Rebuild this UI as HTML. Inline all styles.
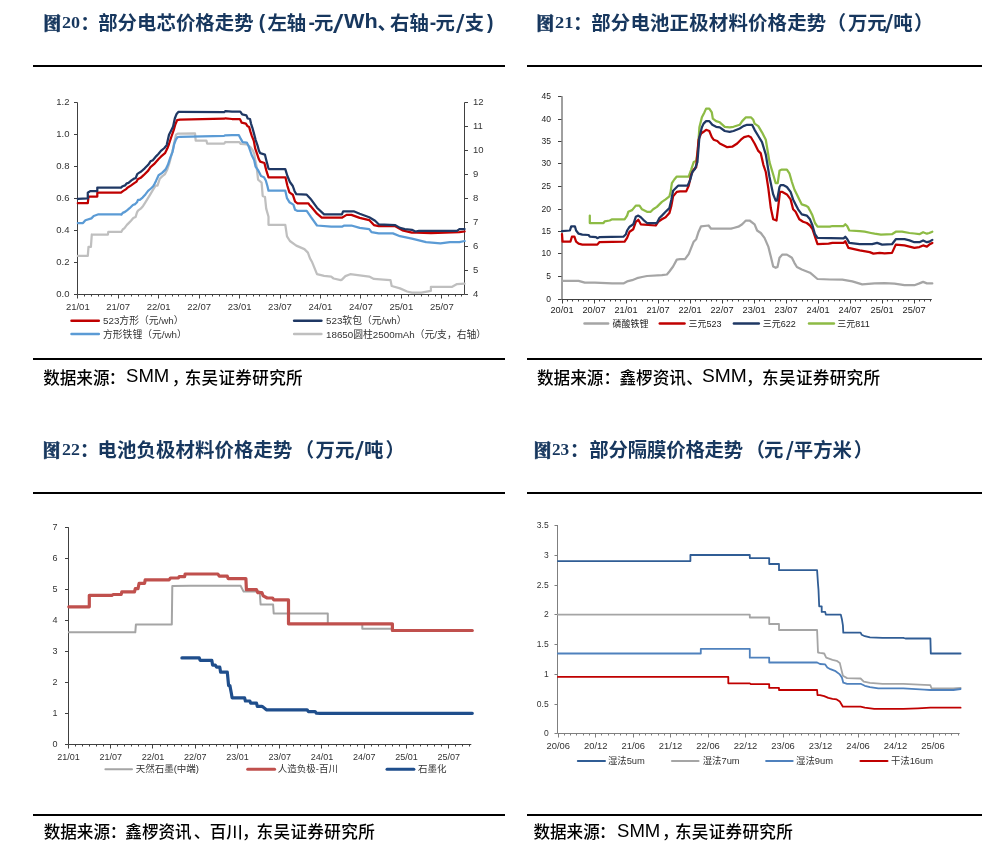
<!DOCTYPE html>
<html><head><meta charset="utf-8"><title>电池材料价格走势</title>
<style>
html,body{margin:0;padding:0;background:#fff;}
body{width:1005px;height:864px;position:relative;overflow:hidden;}
.c{position:absolute;white-space:nowrap;margin:0;padding:0;}
.rule{position:absolute;height:2px;background:#000;}
svg{position:absolute;left:0;top:0;}
svg text{font-family:'Liberation Sans','Noto Sans CJK SC',sans-serif;}
</style></head><body>
<div class="c" style="left:43.2px;top:9.1px;font-family:'Liberation Serif','Noto Serif CJK SC',serif;font-weight:900;font-size:18px;-webkit-text-stroke:0.45px #17375E;color:#17375E">图</div>
<div class="c" style="left:62.1px;top:12.1px;font-family:'Liberation Serif',serif;font-weight:bold;font-size:17.5px;color:#17375E;transform:scaleX(1.035);transform-origin:0 0">20</div>
<div class="c" style="left:80.2px;top:6.9px;font-family:'Liberation Sans','Noto Sans CJK SC',sans-serif;font-weight:bold;font-size:19.4px;color:#17375E">：</div>
<div class="c" style="left:98.2px;top:6.9px;font-family:'Liberation Sans','Noto Sans CJK SC',sans-serif;font-weight:bold;font-size:19.4px;color:#17375E;letter-spacing:0.04px">部分电芯价格走势</div>
<div class="c" style="left:258.7px;top:11.1px;font-family:'Liberation Sans','Noto Sans CJK SC',sans-serif;font-weight:bold;font-size:19.4px;color:#17375E">(</div>
<div class="c" style="left:267.4px;top:6.9px;font-family:'Liberation Sans','Noto Sans CJK SC',sans-serif;font-weight:bold;font-size:19.4px;color:#17375E">左轴</div>
<div class="c" style="left:308.5px;top:11.3px;font-family:'Liberation Sans','Noto Sans CJK SC',sans-serif;font-weight:bold;font-size:19.4px;color:#17375E">-</div>
<div class="c" style="left:313.9px;top:6.9px;font-family:'Liberation Sans','Noto Sans CJK SC',sans-serif;font-weight:bold;font-size:19.4px;color:#17375E">元</div>
<div class="c" style="left:333.3px;top:10.0px;font-family:'Liberation Sans',sans-serif;font-weight:normal;font-size:25px;color:#17375E;transform:scaleX(1.500);transform-origin:0 0">/</div>
<div class="c" style="left:343.8px;top:9.3px;font-family:'Liberation Sans','Noto Sans CJK SC',sans-serif;font-weight:bold;font-size:20.5px;color:#17375E;transform:scaleX(1.058);transform-origin:0 0">Wh</div>
<div class="c" style="left:377.6px;top:6.9px;font-family:'Liberation Sans','Noto Sans CJK SC',sans-serif;font-weight:bold;font-size:19.4px;color:#17375E">、</div>
<div class="c" style="left:390.0px;top:6.9px;font-family:'Liberation Sans','Noto Sans CJK SC',sans-serif;font-weight:bold;font-size:19.4px;color:#17375E">右轴</div>
<div class="c" style="left:429.7px;top:11.3px;font-family:'Liberation Sans','Noto Sans CJK SC',sans-serif;font-weight:bold;font-size:19.4px;color:#17375E">-</div>
<div class="c" style="left:435.6px;top:6.9px;font-family:'Liberation Sans','Noto Sans CJK SC',sans-serif;font-weight:bold;font-size:19.4px;color:#17375E">元</div>
<div class="c" style="left:456.0px;top:10.0px;font-family:'Liberation Sans',sans-serif;font-weight:normal;font-size:25px;color:#17375E;transform:scaleX(1.229);transform-origin:0 0">/</div>
<div class="c" style="left:464.8px;top:6.9px;font-family:'Liberation Sans','Noto Sans CJK SC',sans-serif;font-weight:bold;font-size:19.4px;color:#17375E">支</div>
<div class="c" style="left:487.0px;top:11.2px;font-family:'Liberation Sans','Noto Sans CJK SC',sans-serif;font-weight:bold;font-size:19.4px;color:#17375E">)</div>
<div class="c" style="left:536.3px;top:9.1px;font-family:'Liberation Serif','Noto Serif CJK SC',serif;font-weight:900;font-size:18px;-webkit-text-stroke:0.45px #17375E;color:#17375E">图</div>
<div class="c" style="left:554.6px;top:12.1px;font-family:'Liberation Serif',serif;font-weight:bold;font-size:17.5px;color:#17375E;transform:scaleX(1.053);transform-origin:0 0">21</div>
<div class="c" style="left:573.1px;top:6.9px;font-family:'Liberation Sans','Noto Sans CJK SC',sans-serif;font-weight:bold;font-size:19.4px;color:#17375E">：</div>
<div class="c" style="left:591.2px;top:6.9px;font-family:'Liberation Sans','Noto Sans CJK SC',sans-serif;font-weight:bold;font-size:19.4px;color:#17375E;letter-spacing:0.21px">部分电池正极材料价格走势</div>
<div class="c" style="left:826.7px;top:6.9px;font-family:'Liberation Sans','Noto Sans CJK SC',sans-serif;font-weight:bold;font-size:19.4px;color:#17375E">（</div>
<div class="c" style="left:847.9px;top:6.9px;font-family:'Liberation Sans','Noto Sans CJK SC',sans-serif;font-weight:bold;font-size:19.4px;color:#17375E">万元</div>
<div class="c" style="left:885.2px;top:10.0px;font-family:'Liberation Sans',sans-serif;font-weight:normal;font-size:25px;color:#17375E;transform:scaleX(1.171);transform-origin:0 0">/</div>
<div class="c" style="left:893.2px;top:6.9px;font-family:'Liberation Sans','Noto Sans CJK SC',sans-serif;font-weight:bold;font-size:19.4px;color:#17375E">吨</div>
<div class="c" style="left:914.1px;top:6.9px;font-family:'Liberation Sans','Noto Sans CJK SC',sans-serif;font-weight:bold;font-size:19.4px;color:#17375E">）</div>
<div class="c" style="left:42.4px;top:436.1px;font-family:'Liberation Serif','Noto Serif CJK SC',serif;font-weight:900;font-size:18px;-webkit-text-stroke:0.45px #17375E;color:#17375E">图</div>
<div class="c" style="left:61.8px;top:439.1px;font-family:'Liberation Serif',serif;font-weight:bold;font-size:17.5px;color:#17375E;transform:scaleX(1.024);transform-origin:0 0">22</div>
<div class="c" style="left:79.7px;top:433.9px;font-family:'Liberation Sans','Noto Sans CJK SC',sans-serif;font-weight:bold;font-size:19.4px;color:#17375E">：</div>
<div class="c" style="left:97.6px;top:433.9px;font-family:'Liberation Sans','Noto Sans CJK SC',sans-serif;font-weight:bold;font-size:19.4px;color:#17375E;letter-spacing:0.10px">电池负极材料价格走势</div>
<div class="c" style="left:294.7px;top:433.9px;font-family:'Liberation Sans','Noto Sans CJK SC',sans-serif;font-weight:bold;font-size:19.4px;color:#17375E">（</div>
<div class="c" style="left:315.6px;top:433.9px;font-family:'Liberation Sans','Noto Sans CJK SC',sans-serif;font-weight:bold;font-size:19.4px;color:#17375E">万元</div>
<div class="c" style="left:355.4px;top:437.0px;font-family:'Liberation Sans',sans-serif;font-weight:normal;font-size:25px;color:#17375E;transform:scaleX(1.257);transform-origin:0 0">/</div>
<div class="c" style="left:364.0px;top:433.9px;font-family:'Liberation Sans','Noto Sans CJK SC',sans-serif;font-weight:bold;font-size:19.4px;color:#17375E">吨</div>
<div class="c" style="left:385.5px;top:433.9px;font-family:'Liberation Sans','Noto Sans CJK SC',sans-serif;font-weight:bold;font-size:19.4px;color:#17375E">）</div>
<div class="c" style="left:533.6px;top:436.1px;font-family:'Liberation Serif','Noto Serif CJK SC',serif;font-weight:900;font-size:18px;-webkit-text-stroke:0.45px #17375E;color:#17375E">图</div>
<div class="c" style="left:552.1px;top:439.1px;font-family:'Liberation Serif',serif;font-weight:bold;font-size:17.5px;color:#17375E;transform:scaleX(0.982);transform-origin:0 0">23</div>
<div class="c" style="left:569.8px;top:433.9px;font-family:'Liberation Sans','Noto Sans CJK SC',sans-serif;font-weight:bold;font-size:19.4px;color:#17375E">：</div>
<div class="c" style="left:589.3px;top:433.9px;font-family:'Liberation Sans','Noto Sans CJK SC',sans-serif;font-weight:bold;font-size:19.4px;color:#17375E;letter-spacing:-0.17px">部分隔膜价格走势</div>
<div class="c" style="left:745.4px;top:433.9px;font-family:'Liberation Sans','Noto Sans CJK SC',sans-serif;font-weight:bold;font-size:19.4px;color:#17375E">（</div>
<div class="c" style="left:764.1px;top:433.9px;font-family:'Liberation Sans','Noto Sans CJK SC',sans-serif;font-weight:bold;font-size:19.4px;color:#17375E">元</div>
<div class="c" style="left:786.3px;top:437.0px;font-family:'Liberation Sans',sans-serif;font-weight:normal;font-size:25px;color:#17375E;transform:scaleX(1.086);transform-origin:0 0">/</div>
<div class="c" style="left:793.8px;top:433.9px;font-family:'Liberation Sans','Noto Sans CJK SC',sans-serif;font-weight:bold;font-size:19.4px;color:#17375E">平方米</div>
<div class="c" style="left:853.8px;top:433.9px;font-family:'Liberation Sans','Noto Sans CJK SC',sans-serif;font-weight:bold;font-size:19.4px;color:#17375E">）</div>
<div class="c" style="left:43.2px;top:364.5px;font-family:'Liberation Sans','Noto Sans CJK SC',sans-serif;font-weight:500;font-size:16.6px;color:#000">数据来源</div>
<div class="c" style="left:108.7px;top:364.5px;font-family:'Liberation Sans','Noto Sans CJK SC',sans-serif;font-weight:500;font-size:16.6px;color:#000">：</div>
<div class="c" style="left:126.3px;top:365.9px;font-family:'Liberation Sans',sans-serif;font-size:17.7px;color:#000;transform:scaleX(1.049);transform-origin:0 0">SMM</div>
<div class="c" style="left:171.8px;top:364.5px;font-family:'Liberation Sans','Noto Sans CJK SC',sans-serif;font-weight:500;font-size:16.6px;color:#000">，</div>
<div class="c" style="left:184.7px;top:364.5px;font-family:'Liberation Sans','Noto Sans CJK SC',sans-serif;font-weight:500;font-size:16.6px;color:#000;letter-spacing:0.30px">东吴证券研究所</div>
<div class="c" style="left:537.0px;top:364.5px;font-family:'Liberation Sans','Noto Sans CJK SC',sans-serif;font-weight:500;font-size:16.6px;color:#000">数据来源</div>
<div class="c" style="left:603.6px;top:364.5px;font-family:'Liberation Sans','Noto Sans CJK SC',sans-serif;font-weight:500;font-size:16.6px;color:#000">：</div>
<div class="c" style="left:619.5px;top:364.5px;font-family:'Liberation Sans','Noto Sans CJK SC',sans-serif;font-weight:500;font-size:16.6px;color:#000">鑫椤资讯</div>
<div class="c" style="left:686.2px;top:364.5px;font-family:'Liberation Sans','Noto Sans CJK SC',sans-serif;font-weight:500;font-size:16.6px;color:#000">、</div>
<div class="c" style="left:702.0px;top:365.9px;font-family:'Liberation Sans',sans-serif;font-size:17.7px;color:#000;transform:scaleX(1.085);transform-origin:0 0">SMM</div>
<div class="c" style="left:745.9px;top:364.5px;font-family:'Liberation Sans','Noto Sans CJK SC',sans-serif;font-weight:500;font-size:16.6px;color:#000">，</div>
<div class="c" style="left:762.1px;top:364.5px;font-family:'Liberation Sans','Noto Sans CJK SC',sans-serif;font-weight:500;font-size:16.6px;color:#000;letter-spacing:0.30px">东吴证券研究所</div>
<div class="c" style="left:43.7px;top:819.3px;font-family:'Liberation Sans','Noto Sans CJK SC',sans-serif;font-weight:500;font-size:16.6px;color:#000">数据来源</div>
<div class="c" style="left:109.7px;top:819.3px;font-family:'Liberation Sans','Noto Sans CJK SC',sans-serif;font-weight:500;font-size:16.6px;color:#000">：</div>
<div class="c" style="left:125.3px;top:819.3px;font-family:'Liberation Sans','Noto Sans CJK SC',sans-serif;font-weight:500;font-size:16.6px;color:#000">鑫椤资讯</div>
<div class="c" style="left:193.7px;top:819.3px;font-family:'Liberation Sans','Noto Sans CJK SC',sans-serif;font-weight:500;font-size:16.6px;color:#000">、</div>
<div class="c" style="left:209.7px;top:819.3px;font-family:'Liberation Sans','Noto Sans CJK SC',sans-serif;font-weight:500;font-size:16.6px;color:#000">百川</div>
<div class="c" style="left:242.1px;top:819.3px;font-family:'Liberation Sans','Noto Sans CJK SC',sans-serif;font-weight:500;font-size:16.6px;color:#000">，</div>
<div class="c" style="left:256.6px;top:819.3px;font-family:'Liberation Sans','Noto Sans CJK SC',sans-serif;font-weight:500;font-size:16.6px;color:#000;letter-spacing:0.33px">东吴证券研究所</div>
<div class="c" style="left:533.4px;top:819.3px;font-family:'Liberation Sans','Noto Sans CJK SC',sans-serif;font-weight:500;font-size:16.6px;color:#000">数据来源</div>
<div class="c" style="left:598.9px;top:819.3px;font-family:'Liberation Sans','Noto Sans CJK SC',sans-serif;font-weight:500;font-size:16.6px;color:#000">：</div>
<div class="c" style="left:616.5px;top:820.7px;font-family:'Liberation Sans',sans-serif;font-size:17.7px;color:#000;transform:scaleX(1.049);transform-origin:0 0">SMM</div>
<div class="c" style="left:662.0px;top:819.3px;font-family:'Liberation Sans','Noto Sans CJK SC',sans-serif;font-weight:500;font-size:16.6px;color:#000">，</div>
<div class="c" style="left:674.9px;top:819.3px;font-family:'Liberation Sans','Noto Sans CJK SC',sans-serif;font-weight:500;font-size:16.6px;color:#000;letter-spacing:0.30px">东吴证券研究所</div>
<div class="rule" style="left:33px;top:65px;width:472px;"></div>
<div class="rule" style="left:527px;top:65px;width:455px;"></div>
<div class="rule" style="left:33px;top:358px;width:472px;"></div>
<div class="rule" style="left:527px;top:358px;width:455px;"></div>
<div class="rule" style="left:33px;top:492px;width:472px;"></div>
<div class="rule" style="left:527px;top:492px;width:455px;"></div>
<div class="rule" style="left:33px;top:814px;width:472px;"></div>
<div class="rule" style="left:527px;top:814px;width:455px;"></div>
<svg width="1005" height="864" viewBox="0 0 1005 864">
<line x1="77.5" y1="102.5" x2="77.5" y2="294.5" stroke="#404040" stroke-width="1"/>
<line x1="77.5" y1="294.5" x2="464.5" y2="294.5" stroke="#404040" stroke-width="1"/>
<line x1="74.0" y1="294.5" x2="77.5" y2="294.5" stroke="#404040" stroke-width="1"/>
<text x="69.5" y="296.9" font-size="9.5" text-anchor="end" fill="#333333" >0.0</text>
<line x1="74.0" y1="262.5" x2="77.5" y2="262.5" stroke="#404040" stroke-width="1"/>
<text x="69.5" y="264.9" font-size="9.5" text-anchor="end" fill="#333333" >0.2</text>
<line x1="74.0" y1="230.5" x2="77.5" y2="230.5" stroke="#404040" stroke-width="1"/>
<text x="69.5" y="232.9" font-size="9.5" text-anchor="end" fill="#333333" >0.4</text>
<line x1="74.0" y1="198.5" x2="77.5" y2="198.5" stroke="#404040" stroke-width="1"/>
<text x="69.5" y="200.9" font-size="9.5" text-anchor="end" fill="#333333" >0.6</text>
<line x1="74.0" y1="166.5" x2="77.5" y2="166.5" stroke="#404040" stroke-width="1"/>
<text x="69.5" y="168.9" font-size="9.5" text-anchor="end" fill="#333333" >0.8</text>
<line x1="74.0" y1="134.5" x2="77.5" y2="134.5" stroke="#404040" stroke-width="1"/>
<text x="69.5" y="136.9" font-size="9.5" text-anchor="end" fill="#333333" >1.0</text>
<line x1="74.0" y1="102.5" x2="77.5" y2="102.5" stroke="#404040" stroke-width="1"/>
<text x="69.5" y="104.9" font-size="9.5" text-anchor="end" fill="#333333" >1.2</text>
<line x1="464.5" y1="294.5" x2="468.0" y2="294.5" stroke="#404040" stroke-width="1"/>
<text x="473" y="296.9" font-size="9.5" text-anchor="start" fill="#333333" >4</text>
<line x1="464.5" y1="270.5" x2="468.0" y2="270.5" stroke="#404040" stroke-width="1"/>
<text x="473" y="272.9" font-size="9.5" text-anchor="start" fill="#333333" >5</text>
<line x1="464.5" y1="246.5" x2="468.0" y2="246.5" stroke="#404040" stroke-width="1"/>
<text x="473" y="248.9" font-size="9.5" text-anchor="start" fill="#333333" >6</text>
<line x1="464.5" y1="222.5" x2="468.0" y2="222.5" stroke="#404040" stroke-width="1"/>
<text x="473" y="224.9" font-size="9.5" text-anchor="start" fill="#333333" >7</text>
<line x1="464.5" y1="198.5" x2="468.0" y2="198.5" stroke="#404040" stroke-width="1"/>
<text x="473" y="200.9" font-size="9.5" text-anchor="start" fill="#333333" >8</text>
<line x1="464.5" y1="174.5" x2="468.0" y2="174.5" stroke="#404040" stroke-width="1"/>
<text x="473" y="176.9" font-size="9.5" text-anchor="start" fill="#333333" >9</text>
<line x1="464.5" y1="150.5" x2="468.0" y2="150.5" stroke="#404040" stroke-width="1"/>
<text x="473" y="152.9" font-size="9.5" text-anchor="start" fill="#333333" >10</text>
<line x1="464.5" y1="126.5" x2="468.0" y2="126.5" stroke="#404040" stroke-width="1"/>
<text x="473" y="128.9" font-size="9.5" text-anchor="start" fill="#333333" >11</text>
<line x1="464.5" y1="102.5" x2="468.0" y2="102.5" stroke="#404040" stroke-width="1"/>
<text x="473" y="104.9" font-size="9.5" text-anchor="start" fill="#333333" >12</text>
<line x1="464.5" y1="102.5" x2="464.5" y2="294.5" stroke="#404040" stroke-width="1"/>
<line x1="77.5" y1="294.5" x2="77.5" y2="298.5" stroke="#404040" stroke-width="1"/>
<line x1="84.5" y1="294.5" x2="84.5" y2="296.5" stroke="#404040" stroke-width="1"/>
<line x1="91.5" y1="294.5" x2="91.5" y2="296.5" stroke="#404040" stroke-width="1"/>
<line x1="98.5" y1="294.5" x2="98.5" y2="296.5" stroke="#404040" stroke-width="1"/>
<line x1="104.5" y1="294.5" x2="104.5" y2="296.5" stroke="#404040" stroke-width="1"/>
<line x1="111.5" y1="294.5" x2="111.5" y2="296.5" stroke="#404040" stroke-width="1"/>
<line x1="118.5" y1="294.5" x2="118.5" y2="298.5" stroke="#404040" stroke-width="1"/>
<line x1="124.5" y1="294.5" x2="124.5" y2="296.5" stroke="#404040" stroke-width="1"/>
<line x1="131.5" y1="294.5" x2="131.5" y2="296.5" stroke="#404040" stroke-width="1"/>
<line x1="138.5" y1="294.5" x2="138.5" y2="296.5" stroke="#404040" stroke-width="1"/>
<line x1="145.5" y1="294.5" x2="145.5" y2="296.5" stroke="#404040" stroke-width="1"/>
<line x1="151.5" y1="294.5" x2="151.5" y2="296.5" stroke="#404040" stroke-width="1"/>
<line x1="158.5" y1="294.5" x2="158.5" y2="298.5" stroke="#404040" stroke-width="1"/>
<line x1="165.5" y1="294.5" x2="165.5" y2="296.5" stroke="#404040" stroke-width="1"/>
<line x1="172.5" y1="294.5" x2="172.5" y2="296.5" stroke="#404040" stroke-width="1"/>
<line x1="178.5" y1="294.5" x2="178.5" y2="296.5" stroke="#404040" stroke-width="1"/>
<line x1="185.5" y1="294.5" x2="185.5" y2="296.5" stroke="#404040" stroke-width="1"/>
<line x1="192.5" y1="294.5" x2="192.5" y2="296.5" stroke="#404040" stroke-width="1"/>
<line x1="199.5" y1="294.5" x2="199.5" y2="298.5" stroke="#404040" stroke-width="1"/>
<line x1="205.5" y1="294.5" x2="205.5" y2="296.5" stroke="#404040" stroke-width="1"/>
<line x1="212.5" y1="294.5" x2="212.5" y2="296.5" stroke="#404040" stroke-width="1"/>
<line x1="219.5" y1="294.5" x2="219.5" y2="296.5" stroke="#404040" stroke-width="1"/>
<line x1="226.5" y1="294.5" x2="226.5" y2="296.5" stroke="#404040" stroke-width="1"/>
<line x1="232.5" y1="294.5" x2="232.5" y2="296.5" stroke="#404040" stroke-width="1"/>
<line x1="239.5" y1="294.5" x2="239.5" y2="298.5" stroke="#404040" stroke-width="1"/>
<line x1="246.5" y1="294.5" x2="246.5" y2="296.5" stroke="#404040" stroke-width="1"/>
<line x1="253.5" y1="294.5" x2="253.5" y2="296.5" stroke="#404040" stroke-width="1"/>
<line x1="259.5" y1="294.5" x2="259.5" y2="296.5" stroke="#404040" stroke-width="1"/>
<line x1="266.5" y1="294.5" x2="266.5" y2="296.5" stroke="#404040" stroke-width="1"/>
<line x1="273.5" y1="294.5" x2="273.5" y2="296.5" stroke="#404040" stroke-width="1"/>
<line x1="280.5" y1="294.5" x2="280.5" y2="298.5" stroke="#404040" stroke-width="1"/>
<line x1="286.5" y1="294.5" x2="286.5" y2="296.5" stroke="#404040" stroke-width="1"/>
<line x1="293.5" y1="294.5" x2="293.5" y2="296.5" stroke="#404040" stroke-width="1"/>
<line x1="300.5" y1="294.5" x2="300.5" y2="296.5" stroke="#404040" stroke-width="1"/>
<line x1="306.5" y1="294.5" x2="306.5" y2="296.5" stroke="#404040" stroke-width="1"/>
<line x1="313.5" y1="294.5" x2="313.5" y2="296.5" stroke="#404040" stroke-width="1"/>
<line x1="320.5" y1="294.5" x2="320.5" y2="298.5" stroke="#404040" stroke-width="1"/>
<line x1="327.5" y1="294.5" x2="327.5" y2="296.5" stroke="#404040" stroke-width="1"/>
<line x1="333.5" y1="294.5" x2="333.5" y2="296.5" stroke="#404040" stroke-width="1"/>
<line x1="340.5" y1="294.5" x2="340.5" y2="296.5" stroke="#404040" stroke-width="1"/>
<line x1="347.5" y1="294.5" x2="347.5" y2="296.5" stroke="#404040" stroke-width="1"/>
<line x1="354.5" y1="294.5" x2="354.5" y2="296.5" stroke="#404040" stroke-width="1"/>
<line x1="360.5" y1="294.5" x2="360.5" y2="298.5" stroke="#404040" stroke-width="1"/>
<line x1="367.5" y1="294.5" x2="367.5" y2="296.5" stroke="#404040" stroke-width="1"/>
<line x1="374.5" y1="294.5" x2="374.5" y2="296.5" stroke="#404040" stroke-width="1"/>
<line x1="381.5" y1="294.5" x2="381.5" y2="296.5" stroke="#404040" stroke-width="1"/>
<line x1="387.5" y1="294.5" x2="387.5" y2="296.5" stroke="#404040" stroke-width="1"/>
<line x1="394.5" y1="294.5" x2="394.5" y2="296.5" stroke="#404040" stroke-width="1"/>
<line x1="401.5" y1="294.5" x2="401.5" y2="298.5" stroke="#404040" stroke-width="1"/>
<line x1="408.5" y1="294.5" x2="408.5" y2="296.5" stroke="#404040" stroke-width="1"/>
<line x1="414.5" y1="294.5" x2="414.5" y2="296.5" stroke="#404040" stroke-width="1"/>
<line x1="421.5" y1="294.5" x2="421.5" y2="296.5" stroke="#404040" stroke-width="1"/>
<line x1="428.5" y1="294.5" x2="428.5" y2="296.5" stroke="#404040" stroke-width="1"/>
<line x1="435.5" y1="294.5" x2="435.5" y2="296.5" stroke="#404040" stroke-width="1"/>
<line x1="441.5" y1="294.5" x2="441.5" y2="298.5" stroke="#404040" stroke-width="1"/>
<line x1="448.5" y1="294.5" x2="448.5" y2="296.5" stroke="#404040" stroke-width="1"/>
<line x1="455.5" y1="294.5" x2="455.5" y2="296.5" stroke="#404040" stroke-width="1"/>
<line x1="461.5" y1="294.5" x2="461.5" y2="296.5" stroke="#404040" stroke-width="1"/>
<text x="77.8" y="310.2" font-size="9.5" text-anchor="middle" fill="#333333" >21/01</text>
<text x="118.2" y="310.2" font-size="9.5" text-anchor="middle" fill="#333333" >21/07</text>
<text x="158.7" y="310.2" font-size="9.5" text-anchor="middle" fill="#333333" >22/01</text>
<text x="199.1" y="310.2" font-size="9.5" text-anchor="middle" fill="#333333" >22/07</text>
<text x="239.6" y="310.2" font-size="9.5" text-anchor="middle" fill="#333333" >23/01</text>
<text x="280.0" y="310.2" font-size="9.5" text-anchor="middle" fill="#333333" >23/07</text>
<text x="320.4" y="310.2" font-size="9.5" text-anchor="middle" fill="#333333" >24/01</text>
<text x="360.9" y="310.2" font-size="9.5" text-anchor="middle" fill="#333333" >24/07</text>
<text x="401.3" y="310.2" font-size="9.5" text-anchor="middle" fill="#333333" >25/01</text>
<text x="441.8" y="310.2" font-size="9.5" text-anchor="middle" fill="#333333" >25/07</text>
<line x1="71.5" y1="320.8" x2="98.8" y2="320.8" stroke="#C00000" stroke-width="2.5" stroke-linecap="round"/>
<text x="103" y="324.3" font-size="9.8" text-anchor="start" fill="#333333" >523方形（元/wh）</text>
<line x1="294.1" y1="320.8" x2="321.4" y2="320.8" stroke="#1F3864" stroke-width="2.5" stroke-linecap="round"/>
<text x="326" y="324.3" font-size="9.8" text-anchor="start" fill="#333333" >523软包（元/wh）</text>
<line x1="71.5" y1="334" x2="98.8" y2="334" stroke="#5B9BD5" stroke-width="2.5" stroke-linecap="round"/>
<text x="103" y="337.5" font-size="9.8" text-anchor="start" fill="#333333" >方形铁锂（元/wh）</text>
<line x1="294.1" y1="334" x2="321.4" y2="334" stroke="#BFBFBF" stroke-width="2.5" stroke-linecap="round"/>
<text x="326" y="337.5" font-size="9.8" text-anchor="start" fill="#333333" >18650圆柱2500mAh（元/支，右轴）</text>
<line x1="562.0" y1="96.2" x2="562.0" y2="299.5" stroke="#404040" stroke-width="1"/>
<line x1="561.5" y1="299.5" x2="931.8" y2="299.5" stroke="#404040" stroke-width="1"/>
<line x1="558.0" y1="299.5" x2="561.5" y2="299.5" stroke="#404040" stroke-width="1"/>
<text x="551" y="302.2" font-size="8.5" text-anchor="end" fill="#222222" >0</text>
<line x1="558.0" y1="276.5" x2="561.5" y2="276.5" stroke="#404040" stroke-width="1"/>
<text x="551" y="279.2" font-size="8.5" text-anchor="end" fill="#222222" >5</text>
<line x1="558.0" y1="253.5" x2="561.5" y2="253.5" stroke="#404040" stroke-width="1"/>
<text x="551" y="256.2" font-size="8.5" text-anchor="end" fill="#222222" >10</text>
<line x1="558.0" y1="231.5" x2="561.5" y2="231.5" stroke="#404040" stroke-width="1"/>
<text x="551" y="234.2" font-size="8.5" text-anchor="end" fill="#222222" >15</text>
<line x1="558.0" y1="209.5" x2="561.5" y2="209.5" stroke="#404040" stroke-width="1"/>
<text x="551" y="212.2" font-size="8.5" text-anchor="end" fill="#222222" >20</text>
<line x1="558.0" y1="186.5" x2="561.5" y2="186.5" stroke="#404040" stroke-width="1"/>
<text x="551" y="189.2" font-size="8.5" text-anchor="end" fill="#222222" >25</text>
<line x1="558.0" y1="163.5" x2="561.5" y2="163.5" stroke="#404040" stroke-width="1"/>
<text x="551" y="166.2" font-size="8.5" text-anchor="end" fill="#222222" >30</text>
<line x1="558.0" y1="141.5" x2="561.5" y2="141.5" stroke="#404040" stroke-width="1"/>
<text x="551" y="144.2" font-size="8.5" text-anchor="end" fill="#222222" >35</text>
<line x1="558.0" y1="119.5" x2="561.5" y2="119.5" stroke="#404040" stroke-width="1"/>
<text x="551" y="122.2" font-size="8.5" text-anchor="end" fill="#222222" >40</text>
<line x1="558.0" y1="96.5" x2="561.5" y2="96.5" stroke="#404040" stroke-width="1"/>
<text x="551" y="99.2" font-size="8.5" text-anchor="end" fill="#222222" >45</text>
<line x1="562.5" y1="299.5" x2="562.5" y2="303.5" stroke="#404040" stroke-width="1"/>
<line x1="567.5" y1="299.5" x2="567.5" y2="301.5" stroke="#404040" stroke-width="1"/>
<line x1="572.5" y1="299.5" x2="572.5" y2="301.5" stroke="#404040" stroke-width="1"/>
<line x1="578.5" y1="299.5" x2="578.5" y2="301.5" stroke="#404040" stroke-width="1"/>
<line x1="583.5" y1="299.5" x2="583.5" y2="301.5" stroke="#404040" stroke-width="1"/>
<line x1="588.5" y1="299.5" x2="588.5" y2="301.5" stroke="#404040" stroke-width="1"/>
<line x1="594.5" y1="299.5" x2="594.5" y2="303.5" stroke="#404040" stroke-width="1"/>
<line x1="599.5" y1="299.5" x2="599.5" y2="301.5" stroke="#404040" stroke-width="1"/>
<line x1="604.5" y1="299.5" x2="604.5" y2="301.5" stroke="#404040" stroke-width="1"/>
<line x1="610.5" y1="299.5" x2="610.5" y2="301.5" stroke="#404040" stroke-width="1"/>
<line x1="615.5" y1="299.5" x2="615.5" y2="301.5" stroke="#404040" stroke-width="1"/>
<line x1="620.5" y1="299.5" x2="620.5" y2="301.5" stroke="#404040" stroke-width="1"/>
<line x1="626.5" y1="299.5" x2="626.5" y2="303.5" stroke="#404040" stroke-width="1"/>
<line x1="631.5" y1="299.5" x2="631.5" y2="301.5" stroke="#404040" stroke-width="1"/>
<line x1="636.5" y1="299.5" x2="636.5" y2="301.5" stroke="#404040" stroke-width="1"/>
<line x1="642.5" y1="299.5" x2="642.5" y2="301.5" stroke="#404040" stroke-width="1"/>
<line x1="647.5" y1="299.5" x2="647.5" y2="301.5" stroke="#404040" stroke-width="1"/>
<line x1="652.5" y1="299.5" x2="652.5" y2="301.5" stroke="#404040" stroke-width="1"/>
<line x1="658.5" y1="299.5" x2="658.5" y2="303.5" stroke="#404040" stroke-width="1"/>
<line x1="663.5" y1="299.5" x2="663.5" y2="301.5" stroke="#404040" stroke-width="1"/>
<line x1="668.5" y1="299.5" x2="668.5" y2="301.5" stroke="#404040" stroke-width="1"/>
<line x1="674.5" y1="299.5" x2="674.5" y2="301.5" stroke="#404040" stroke-width="1"/>
<line x1="679.5" y1="299.5" x2="679.5" y2="301.5" stroke="#404040" stroke-width="1"/>
<line x1="684.5" y1="299.5" x2="684.5" y2="301.5" stroke="#404040" stroke-width="1"/>
<line x1="690.5" y1="299.5" x2="690.5" y2="303.5" stroke="#404040" stroke-width="1"/>
<line x1="695.5" y1="299.5" x2="695.5" y2="301.5" stroke="#404040" stroke-width="1"/>
<line x1="700.5" y1="299.5" x2="700.5" y2="301.5" stroke="#404040" stroke-width="1"/>
<line x1="706.5" y1="299.5" x2="706.5" y2="301.5" stroke="#404040" stroke-width="1"/>
<line x1="711.5" y1="299.5" x2="711.5" y2="301.5" stroke="#404040" stroke-width="1"/>
<line x1="716.5" y1="299.5" x2="716.5" y2="301.5" stroke="#404040" stroke-width="1"/>
<line x1="722.5" y1="299.5" x2="722.5" y2="303.5" stroke="#404040" stroke-width="1"/>
<line x1="727.5" y1="299.5" x2="727.5" y2="301.5" stroke="#404040" stroke-width="1"/>
<line x1="732.5" y1="299.5" x2="732.5" y2="301.5" stroke="#404040" stroke-width="1"/>
<line x1="738.5" y1="299.5" x2="738.5" y2="301.5" stroke="#404040" stroke-width="1"/>
<line x1="743.5" y1="299.5" x2="743.5" y2="301.5" stroke="#404040" stroke-width="1"/>
<line x1="748.5" y1="299.5" x2="748.5" y2="301.5" stroke="#404040" stroke-width="1"/>
<line x1="754.5" y1="299.5" x2="754.5" y2="303.5" stroke="#404040" stroke-width="1"/>
<line x1="759.5" y1="299.5" x2="759.5" y2="301.5" stroke="#404040" stroke-width="1"/>
<line x1="764.5" y1="299.5" x2="764.5" y2="301.5" stroke="#404040" stroke-width="1"/>
<line x1="770.5" y1="299.5" x2="770.5" y2="301.5" stroke="#404040" stroke-width="1"/>
<line x1="775.5" y1="299.5" x2="775.5" y2="301.5" stroke="#404040" stroke-width="1"/>
<line x1="780.5" y1="299.5" x2="780.5" y2="301.5" stroke="#404040" stroke-width="1"/>
<line x1="786.5" y1="299.5" x2="786.5" y2="303.5" stroke="#404040" stroke-width="1"/>
<line x1="791.5" y1="299.5" x2="791.5" y2="301.5" stroke="#404040" stroke-width="1"/>
<line x1="796.5" y1="299.5" x2="796.5" y2="301.5" stroke="#404040" stroke-width="1"/>
<line x1="802.5" y1="299.5" x2="802.5" y2="301.5" stroke="#404040" stroke-width="1"/>
<line x1="807.5" y1="299.5" x2="807.5" y2="301.5" stroke="#404040" stroke-width="1"/>
<line x1="812.5" y1="299.5" x2="812.5" y2="301.5" stroke="#404040" stroke-width="1"/>
<line x1="818.5" y1="299.5" x2="818.5" y2="303.5" stroke="#404040" stroke-width="1"/>
<line x1="823.5" y1="299.5" x2="823.5" y2="301.5" stroke="#404040" stroke-width="1"/>
<line x1="828.5" y1="299.5" x2="828.5" y2="301.5" stroke="#404040" stroke-width="1"/>
<line x1="834.5" y1="299.5" x2="834.5" y2="301.5" stroke="#404040" stroke-width="1"/>
<line x1="839.5" y1="299.5" x2="839.5" y2="301.5" stroke="#404040" stroke-width="1"/>
<line x1="844.5" y1="299.5" x2="844.5" y2="301.5" stroke="#404040" stroke-width="1"/>
<line x1="850.5" y1="299.5" x2="850.5" y2="303.5" stroke="#404040" stroke-width="1"/>
<line x1="855.5" y1="299.5" x2="855.5" y2="301.5" stroke="#404040" stroke-width="1"/>
<line x1="860.5" y1="299.5" x2="860.5" y2="301.5" stroke="#404040" stroke-width="1"/>
<line x1="866.5" y1="299.5" x2="866.5" y2="301.5" stroke="#404040" stroke-width="1"/>
<line x1="871.5" y1="299.5" x2="871.5" y2="301.5" stroke="#404040" stroke-width="1"/>
<line x1="876.5" y1="299.5" x2="876.5" y2="301.5" stroke="#404040" stroke-width="1"/>
<line x1="882.5" y1="299.5" x2="882.5" y2="303.5" stroke="#404040" stroke-width="1"/>
<line x1="887.5" y1="299.5" x2="887.5" y2="301.5" stroke="#404040" stroke-width="1"/>
<line x1="892.5" y1="299.5" x2="892.5" y2="301.5" stroke="#404040" stroke-width="1"/>
<line x1="898.5" y1="299.5" x2="898.5" y2="301.5" stroke="#404040" stroke-width="1"/>
<line x1="903.5" y1="299.5" x2="903.5" y2="301.5" stroke="#404040" stroke-width="1"/>
<line x1="908.5" y1="299.5" x2="908.5" y2="301.5" stroke="#404040" stroke-width="1"/>
<line x1="914.5" y1="299.5" x2="914.5" y2="303.5" stroke="#404040" stroke-width="1"/>
<line x1="919.5" y1="299.5" x2="919.5" y2="301.5" stroke="#404040" stroke-width="1"/>
<line x1="924.5" y1="299.5" x2="924.5" y2="301.5" stroke="#404040" stroke-width="1"/>
<line x1="930.5" y1="299.5" x2="930.5" y2="301.5" stroke="#404040" stroke-width="1"/>
<text x="562.0" y="313.4" font-size="9.2" text-anchor="middle" fill="#222222" >20/01</text>
<text x="594.0" y="313.4" font-size="9.2" text-anchor="middle" fill="#222222" >20/07</text>
<text x="626.0" y="313.4" font-size="9.2" text-anchor="middle" fill="#222222" >21/01</text>
<text x="658.0" y="313.4" font-size="9.2" text-anchor="middle" fill="#222222" >21/07</text>
<text x="690.0" y="313.4" font-size="9.2" text-anchor="middle" fill="#222222" >22/01</text>
<text x="722.0" y="313.4" font-size="9.2" text-anchor="middle" fill="#222222" >22/07</text>
<text x="754.1" y="313.4" font-size="9.2" text-anchor="middle" fill="#222222" >23/01</text>
<text x="786.1" y="313.4" font-size="9.2" text-anchor="middle" fill="#222222" >23/07</text>
<text x="818.1" y="313.4" font-size="9.2" text-anchor="middle" fill="#222222" >24/01</text>
<text x="850.1" y="313.4" font-size="9.2" text-anchor="middle" fill="#222222" >24/07</text>
<text x="882.1" y="313.4" font-size="9.2" text-anchor="middle" fill="#222222" >25/01</text>
<text x="914.1" y="313.4" font-size="9.2" text-anchor="middle" fill="#222222" >25/07</text>
<line x1="584.5" y1="323.4" x2="608.1" y2="323.4" stroke="#A5A5A5" stroke-width="2.5" stroke-linecap="round"/>
<text x="612.5" y="326.7" font-size="9" text-anchor="start" fill="#222222" >磷酸铁锂</text>
<line x1="659.8" y1="323.4" x2="684.5" y2="323.4" stroke="#C00000" stroke-width="2.5" stroke-linecap="round"/>
<text x="688.4" y="326.7" font-size="9" text-anchor="start" fill="#222222" >三元523</text>
<line x1="733.9" y1="323.4" x2="758.8" y2="323.4" stroke="#1F3864" stroke-width="2.5" stroke-linecap="round"/>
<text x="762.8" y="326.7" font-size="9" text-anchor="start" fill="#222222" >三元622</text>
<line x1="809.0" y1="323.4" x2="833.9" y2="323.4" stroke="#8DBB45" stroke-width="2.5" stroke-linecap="round"/>
<text x="837.3" y="326.7" font-size="9" text-anchor="start" fill="#222222" >三元811</text>
<line x1="68.5" y1="527.2" x2="68.5" y2="744.5" stroke="#404040" stroke-width="1"/>
<line x1="68.5" y1="744.5" x2="471.3" y2="744.5" stroke="#404040" stroke-width="1"/>
<line x1="65.0" y1="744.5" x2="68.5" y2="744.5" stroke="#404040" stroke-width="1"/>
<text x="57.5" y="746.8" font-size="9" text-anchor="end" fill="#333333" >0</text>
<line x1="65.0" y1="713.5" x2="68.5" y2="713.5" stroke="#404040" stroke-width="1"/>
<text x="57.5" y="715.8" font-size="9" text-anchor="end" fill="#333333" >1</text>
<line x1="65.0" y1="682.5" x2="68.5" y2="682.5" stroke="#404040" stroke-width="1"/>
<text x="57.5" y="684.8" font-size="9" text-anchor="end" fill="#333333" >2</text>
<line x1="65.0" y1="651.5" x2="68.5" y2="651.5" stroke="#404040" stroke-width="1"/>
<text x="57.5" y="653.8" font-size="9" text-anchor="end" fill="#333333" >3</text>
<line x1="65.0" y1="620.5" x2="68.5" y2="620.5" stroke="#404040" stroke-width="1"/>
<text x="57.5" y="622.8" font-size="9" text-anchor="end" fill="#333333" >4</text>
<line x1="65.0" y1="589.5" x2="68.5" y2="589.5" stroke="#404040" stroke-width="1"/>
<text x="57.5" y="591.8" font-size="9" text-anchor="end" fill="#333333" >5</text>
<line x1="65.0" y1="558.5" x2="68.5" y2="558.5" stroke="#404040" stroke-width="1"/>
<text x="57.5" y="560.8" font-size="9" text-anchor="end" fill="#333333" >6</text>
<line x1="65.0" y1="527.5" x2="68.5" y2="527.5" stroke="#404040" stroke-width="1"/>
<text x="57.5" y="529.8" font-size="9" text-anchor="end" fill="#333333" >7</text>
<line x1="68.5" y1="744.5" x2="68.5" y2="748.5" stroke="#404040" stroke-width="1"/>
<line x1="75.5" y1="744.5" x2="75.5" y2="746.5" stroke="#404040" stroke-width="1"/>
<line x1="82.5" y1="744.5" x2="82.5" y2="746.5" stroke="#404040" stroke-width="1"/>
<line x1="89.5" y1="744.5" x2="89.5" y2="746.5" stroke="#404040" stroke-width="1"/>
<line x1="96.5" y1="744.5" x2="96.5" y2="746.5" stroke="#404040" stroke-width="1"/>
<line x1="103.5" y1="744.5" x2="103.5" y2="746.5" stroke="#404040" stroke-width="1"/>
<line x1="110.5" y1="744.5" x2="110.5" y2="748.5" stroke="#404040" stroke-width="1"/>
<line x1="117.5" y1="744.5" x2="117.5" y2="746.5" stroke="#404040" stroke-width="1"/>
<line x1="124.5" y1="744.5" x2="124.5" y2="746.5" stroke="#404040" stroke-width="1"/>
<line x1="131.5" y1="744.5" x2="131.5" y2="746.5" stroke="#404040" stroke-width="1"/>
<line x1="138.5" y1="744.5" x2="138.5" y2="746.5" stroke="#404040" stroke-width="1"/>
<line x1="145.5" y1="744.5" x2="145.5" y2="746.5" stroke="#404040" stroke-width="1"/>
<line x1="152.5" y1="744.5" x2="152.5" y2="748.5" stroke="#404040" stroke-width="1"/>
<line x1="160.5" y1="744.5" x2="160.5" y2="746.5" stroke="#404040" stroke-width="1"/>
<line x1="167.5" y1="744.5" x2="167.5" y2="746.5" stroke="#404040" stroke-width="1"/>
<line x1="174.5" y1="744.5" x2="174.5" y2="746.5" stroke="#404040" stroke-width="1"/>
<line x1="181.5" y1="744.5" x2="181.5" y2="746.5" stroke="#404040" stroke-width="1"/>
<line x1="188.5" y1="744.5" x2="188.5" y2="746.5" stroke="#404040" stroke-width="1"/>
<line x1="195.5" y1="744.5" x2="195.5" y2="748.5" stroke="#404040" stroke-width="1"/>
<line x1="202.5" y1="744.5" x2="202.5" y2="746.5" stroke="#404040" stroke-width="1"/>
<line x1="209.5" y1="744.5" x2="209.5" y2="746.5" stroke="#404040" stroke-width="1"/>
<line x1="216.5" y1="744.5" x2="216.5" y2="746.5" stroke="#404040" stroke-width="1"/>
<line x1="223.5" y1="744.5" x2="223.5" y2="746.5" stroke="#404040" stroke-width="1"/>
<line x1="230.5" y1="744.5" x2="230.5" y2="746.5" stroke="#404040" stroke-width="1"/>
<line x1="237.5" y1="744.5" x2="237.5" y2="748.5" stroke="#404040" stroke-width="1"/>
<line x1="244.5" y1="744.5" x2="244.5" y2="746.5" stroke="#404040" stroke-width="1"/>
<line x1="251.5" y1="744.5" x2="251.5" y2="746.5" stroke="#404040" stroke-width="1"/>
<line x1="258.5" y1="744.5" x2="258.5" y2="746.5" stroke="#404040" stroke-width="1"/>
<line x1="265.5" y1="744.5" x2="265.5" y2="746.5" stroke="#404040" stroke-width="1"/>
<line x1="272.5" y1="744.5" x2="272.5" y2="746.5" stroke="#404040" stroke-width="1"/>
<line x1="279.5" y1="744.5" x2="279.5" y2="748.5" stroke="#404040" stroke-width="1"/>
<line x1="286.5" y1="744.5" x2="286.5" y2="746.5" stroke="#404040" stroke-width="1"/>
<line x1="293.5" y1="744.5" x2="293.5" y2="746.5" stroke="#404040" stroke-width="1"/>
<line x1="300.5" y1="744.5" x2="300.5" y2="746.5" stroke="#404040" stroke-width="1"/>
<line x1="307.5" y1="744.5" x2="307.5" y2="746.5" stroke="#404040" stroke-width="1"/>
<line x1="314.5" y1="744.5" x2="314.5" y2="746.5" stroke="#404040" stroke-width="1"/>
<line x1="321.5" y1="744.5" x2="321.5" y2="748.5" stroke="#404040" stroke-width="1"/>
<line x1="328.5" y1="744.5" x2="328.5" y2="746.5" stroke="#404040" stroke-width="1"/>
<line x1="336.5" y1="744.5" x2="336.5" y2="746.5" stroke="#404040" stroke-width="1"/>
<line x1="343.5" y1="744.5" x2="343.5" y2="746.5" stroke="#404040" stroke-width="1"/>
<line x1="350.5" y1="744.5" x2="350.5" y2="746.5" stroke="#404040" stroke-width="1"/>
<line x1="357.5" y1="744.5" x2="357.5" y2="746.5" stroke="#404040" stroke-width="1"/>
<line x1="364.5" y1="744.5" x2="364.5" y2="748.5" stroke="#404040" stroke-width="1"/>
<line x1="371.5" y1="744.5" x2="371.5" y2="746.5" stroke="#404040" stroke-width="1"/>
<line x1="378.5" y1="744.5" x2="378.5" y2="746.5" stroke="#404040" stroke-width="1"/>
<line x1="385.5" y1="744.5" x2="385.5" y2="746.5" stroke="#404040" stroke-width="1"/>
<line x1="392.5" y1="744.5" x2="392.5" y2="746.5" stroke="#404040" stroke-width="1"/>
<line x1="399.5" y1="744.5" x2="399.5" y2="746.5" stroke="#404040" stroke-width="1"/>
<line x1="406.5" y1="744.5" x2="406.5" y2="748.5" stroke="#404040" stroke-width="1"/>
<line x1="413.5" y1="744.5" x2="413.5" y2="746.5" stroke="#404040" stroke-width="1"/>
<line x1="420.5" y1="744.5" x2="420.5" y2="746.5" stroke="#404040" stroke-width="1"/>
<line x1="427.5" y1="744.5" x2="427.5" y2="746.5" stroke="#404040" stroke-width="1"/>
<line x1="434.5" y1="744.5" x2="434.5" y2="746.5" stroke="#404040" stroke-width="1"/>
<line x1="441.5" y1="744.5" x2="441.5" y2="746.5" stroke="#404040" stroke-width="1"/>
<line x1="448.5" y1="744.5" x2="448.5" y2="748.5" stroke="#404040" stroke-width="1"/>
<line x1="455.5" y1="744.5" x2="455.5" y2="746.5" stroke="#404040" stroke-width="1"/>
<line x1="462.5" y1="744.5" x2="462.5" y2="746.5" stroke="#404040" stroke-width="1"/>
<line x1="469.5" y1="744.5" x2="469.5" y2="746.5" stroke="#404040" stroke-width="1"/>
<text x="68.5" y="759.7" font-size="9" text-anchor="middle" fill="#333333" >21/01</text>
<text x="110.7" y="759.7" font-size="9" text-anchor="middle" fill="#333333" >21/07</text>
<text x="153.0" y="759.7" font-size="9" text-anchor="middle" fill="#333333" >22/01</text>
<text x="195.2" y="759.7" font-size="9" text-anchor="middle" fill="#333333" >22/07</text>
<text x="237.5" y="759.7" font-size="9" text-anchor="middle" fill="#333333" >23/01</text>
<text x="279.7" y="759.7" font-size="9" text-anchor="middle" fill="#333333" >23/07</text>
<text x="321.9" y="759.7" font-size="9" text-anchor="middle" fill="#333333" >24/01</text>
<text x="364.2" y="759.7" font-size="9" text-anchor="middle" fill="#333333" >24/07</text>
<text x="406.4" y="759.7" font-size="9" text-anchor="middle" fill="#333333" >25/01</text>
<text x="448.7" y="759.7" font-size="9" text-anchor="middle" fill="#333333" >25/07</text>
<line x1="105.4" y1="769.3" x2="132.0" y2="769.3" stroke="#A5A5A5" stroke-width="2" stroke-linecap="round"/>
<text x="135.7" y="772.1999999999999" font-size="9.5" text-anchor="start" fill="#333333" >天然石墨(中端)</text>
<line x1="247.7" y1="769.3" x2="274.6" y2="769.3" stroke="#C0504D" stroke-width="3" stroke-linecap="round"/>
<text x="277.8" y="772.1999999999999" font-size="9.5" text-anchor="start" fill="#333333" >人造负极-百川</text>
<line x1="387.0" y1="769.3" x2="413.9" y2="769.3" stroke="#1F4E8C" stroke-width="3" stroke-linecap="round"/>
<text x="417.9" y="772.1999999999999" font-size="9.5" text-anchor="start" fill="#333333" >石墨化</text>
<line x1="557.5" y1="525" x2="557.5" y2="733.5" stroke="#7F7F7F" stroke-width="1"/>
<line x1="557.5" y1="733.5" x2="959.7" y2="733.5" stroke="#7F7F7F" stroke-width="1"/>
<line x1="554.5" y1="733.5" x2="557.5" y2="733.5" stroke="#7F7F7F" stroke-width="1"/>
<text x="548.7" y="736.3" font-size="8.5" text-anchor="end" fill="#333333" >0</text>
<line x1="554.5" y1="704.5" x2="557.5" y2="704.5" stroke="#7F7F7F" stroke-width="1"/>
<text x="548.7" y="707.3" font-size="8.5" text-anchor="end" fill="#333333" >0.5</text>
<line x1="554.5" y1="674.5" x2="557.5" y2="674.5" stroke="#7F7F7F" stroke-width="1"/>
<text x="548.7" y="677.3" font-size="8.5" text-anchor="end" fill="#333333" >1</text>
<line x1="554.5" y1="644.5" x2="557.5" y2="644.5" stroke="#7F7F7F" stroke-width="1"/>
<text x="548.7" y="647.3" font-size="8.5" text-anchor="end" fill="#333333" >1.5</text>
<line x1="554.5" y1="614.5" x2="557.5" y2="614.5" stroke="#7F7F7F" stroke-width="1"/>
<text x="548.7" y="617.3" font-size="8.5" text-anchor="end" fill="#333333" >2</text>
<line x1="554.5" y1="585.5" x2="557.5" y2="585.5" stroke="#7F7F7F" stroke-width="1"/>
<text x="548.7" y="588.3" font-size="8.5" text-anchor="end" fill="#333333" >2.5</text>
<line x1="554.5" y1="555.5" x2="557.5" y2="555.5" stroke="#7F7F7F" stroke-width="1"/>
<text x="548.7" y="558.3" font-size="8.5" text-anchor="end" fill="#333333" >3</text>
<line x1="554.5" y1="525.5" x2="557.5" y2="525.5" stroke="#7F7F7F" stroke-width="1"/>
<text x="548.7" y="528.3" font-size="8.5" text-anchor="end" fill="#333333" >3.5</text>
<line x1="558.5" y1="733.5" x2="558.5" y2="737.5" stroke="#7F7F7F" stroke-width="1"/>
<line x1="564.5" y1="733.5" x2="564.5" y2="735.5" stroke="#7F7F7F" stroke-width="1"/>
<line x1="570.5" y1="733.5" x2="570.5" y2="735.5" stroke="#7F7F7F" stroke-width="1"/>
<line x1="576.5" y1="733.5" x2="576.5" y2="735.5" stroke="#7F7F7F" stroke-width="1"/>
<line x1="583.5" y1="733.5" x2="583.5" y2="735.5" stroke="#7F7F7F" stroke-width="1"/>
<line x1="589.5" y1="733.5" x2="589.5" y2="735.5" stroke="#7F7F7F" stroke-width="1"/>
<line x1="595.5" y1="733.5" x2="595.5" y2="737.5" stroke="#7F7F7F" stroke-width="1"/>
<line x1="601.5" y1="733.5" x2="601.5" y2="735.5" stroke="#7F7F7F" stroke-width="1"/>
<line x1="608.5" y1="733.5" x2="608.5" y2="735.5" stroke="#7F7F7F" stroke-width="1"/>
<line x1="614.5" y1="733.5" x2="614.5" y2="735.5" stroke="#7F7F7F" stroke-width="1"/>
<line x1="620.5" y1="733.5" x2="620.5" y2="735.5" stroke="#7F7F7F" stroke-width="1"/>
<line x1="626.5" y1="733.5" x2="626.5" y2="735.5" stroke="#7F7F7F" stroke-width="1"/>
<line x1="633.5" y1="733.5" x2="633.5" y2="737.5" stroke="#7F7F7F" stroke-width="1"/>
<line x1="639.5" y1="733.5" x2="639.5" y2="735.5" stroke="#7F7F7F" stroke-width="1"/>
<line x1="645.5" y1="733.5" x2="645.5" y2="735.5" stroke="#7F7F7F" stroke-width="1"/>
<line x1="651.5" y1="733.5" x2="651.5" y2="735.5" stroke="#7F7F7F" stroke-width="1"/>
<line x1="658.5" y1="733.5" x2="658.5" y2="735.5" stroke="#7F7F7F" stroke-width="1"/>
<line x1="664.5" y1="733.5" x2="664.5" y2="735.5" stroke="#7F7F7F" stroke-width="1"/>
<line x1="670.5" y1="733.5" x2="670.5" y2="737.5" stroke="#7F7F7F" stroke-width="1"/>
<line x1="676.5" y1="733.5" x2="676.5" y2="735.5" stroke="#7F7F7F" stroke-width="1"/>
<line x1="683.5" y1="733.5" x2="683.5" y2="735.5" stroke="#7F7F7F" stroke-width="1"/>
<line x1="689.5" y1="733.5" x2="689.5" y2="735.5" stroke="#7F7F7F" stroke-width="1"/>
<line x1="695.5" y1="733.5" x2="695.5" y2="735.5" stroke="#7F7F7F" stroke-width="1"/>
<line x1="701.5" y1="733.5" x2="701.5" y2="735.5" stroke="#7F7F7F" stroke-width="1"/>
<line x1="708.5" y1="733.5" x2="708.5" y2="737.5" stroke="#7F7F7F" stroke-width="1"/>
<line x1="714.5" y1="733.5" x2="714.5" y2="735.5" stroke="#7F7F7F" stroke-width="1"/>
<line x1="720.5" y1="733.5" x2="720.5" y2="735.5" stroke="#7F7F7F" stroke-width="1"/>
<line x1="726.5" y1="733.5" x2="726.5" y2="735.5" stroke="#7F7F7F" stroke-width="1"/>
<line x1="733.5" y1="733.5" x2="733.5" y2="735.5" stroke="#7F7F7F" stroke-width="1"/>
<line x1="739.5" y1="733.5" x2="739.5" y2="735.5" stroke="#7F7F7F" stroke-width="1"/>
<line x1="745.5" y1="733.5" x2="745.5" y2="737.5" stroke="#7F7F7F" stroke-width="1"/>
<line x1="751.5" y1="733.5" x2="751.5" y2="735.5" stroke="#7F7F7F" stroke-width="1"/>
<line x1="758.5" y1="733.5" x2="758.5" y2="735.5" stroke="#7F7F7F" stroke-width="1"/>
<line x1="764.5" y1="733.5" x2="764.5" y2="735.5" stroke="#7F7F7F" stroke-width="1"/>
<line x1="770.5" y1="733.5" x2="770.5" y2="735.5" stroke="#7F7F7F" stroke-width="1"/>
<line x1="776.5" y1="733.5" x2="776.5" y2="735.5" stroke="#7F7F7F" stroke-width="1"/>
<line x1="783.5" y1="733.5" x2="783.5" y2="737.5" stroke="#7F7F7F" stroke-width="1"/>
<line x1="789.5" y1="733.5" x2="789.5" y2="735.5" stroke="#7F7F7F" stroke-width="1"/>
<line x1="795.5" y1="733.5" x2="795.5" y2="735.5" stroke="#7F7F7F" stroke-width="1"/>
<line x1="801.5" y1="733.5" x2="801.5" y2="735.5" stroke="#7F7F7F" stroke-width="1"/>
<line x1="808.5" y1="733.5" x2="808.5" y2="735.5" stroke="#7F7F7F" stroke-width="1"/>
<line x1="814.5" y1="733.5" x2="814.5" y2="735.5" stroke="#7F7F7F" stroke-width="1"/>
<line x1="820.5" y1="733.5" x2="820.5" y2="737.5" stroke="#7F7F7F" stroke-width="1"/>
<line x1="826.5" y1="733.5" x2="826.5" y2="735.5" stroke="#7F7F7F" stroke-width="1"/>
<line x1="833.5" y1="733.5" x2="833.5" y2="735.5" stroke="#7F7F7F" stroke-width="1"/>
<line x1="839.5" y1="733.5" x2="839.5" y2="735.5" stroke="#7F7F7F" stroke-width="1"/>
<line x1="845.5" y1="733.5" x2="845.5" y2="735.5" stroke="#7F7F7F" stroke-width="1"/>
<line x1="851.5" y1="733.5" x2="851.5" y2="735.5" stroke="#7F7F7F" stroke-width="1"/>
<line x1="858.5" y1="733.5" x2="858.5" y2="737.5" stroke="#7F7F7F" stroke-width="1"/>
<line x1="864.5" y1="733.5" x2="864.5" y2="735.5" stroke="#7F7F7F" stroke-width="1"/>
<line x1="870.5" y1="733.5" x2="870.5" y2="735.5" stroke="#7F7F7F" stroke-width="1"/>
<line x1="876.5" y1="733.5" x2="876.5" y2="735.5" stroke="#7F7F7F" stroke-width="1"/>
<line x1="883.5" y1="733.5" x2="883.5" y2="735.5" stroke="#7F7F7F" stroke-width="1"/>
<line x1="889.5" y1="733.5" x2="889.5" y2="735.5" stroke="#7F7F7F" stroke-width="1"/>
<line x1="895.5" y1="733.5" x2="895.5" y2="737.5" stroke="#7F7F7F" stroke-width="1"/>
<line x1="901.5" y1="733.5" x2="901.5" y2="735.5" stroke="#7F7F7F" stroke-width="1"/>
<line x1="908.5" y1="733.5" x2="908.5" y2="735.5" stroke="#7F7F7F" stroke-width="1"/>
<line x1="914.5" y1="733.5" x2="914.5" y2="735.5" stroke="#7F7F7F" stroke-width="1"/>
<line x1="920.5" y1="733.5" x2="920.5" y2="735.5" stroke="#7F7F7F" stroke-width="1"/>
<line x1="926.5" y1="733.5" x2="926.5" y2="735.5" stroke="#7F7F7F" stroke-width="1"/>
<line x1="933.5" y1="733.5" x2="933.5" y2="737.5" stroke="#7F7F7F" stroke-width="1"/>
<line x1="939.5" y1="733.5" x2="939.5" y2="735.5" stroke="#7F7F7F" stroke-width="1"/>
<line x1="945.5" y1="733.5" x2="945.5" y2="735.5" stroke="#7F7F7F" stroke-width="1"/>
<line x1="951.5" y1="733.5" x2="951.5" y2="735.5" stroke="#7F7F7F" stroke-width="1"/>
<line x1="958.5" y1="733.5" x2="958.5" y2="735.5" stroke="#7F7F7F" stroke-width="1"/>
<text x="558.2" y="748.7" font-size="9.4" text-anchor="middle" fill="#333333" >20/06</text>
<text x="595.7" y="748.7" font-size="9.4" text-anchor="middle" fill="#333333" >20/12</text>
<text x="633.2" y="748.7" font-size="9.4" text-anchor="middle" fill="#333333" >21/06</text>
<text x="670.6" y="748.7" font-size="9.4" text-anchor="middle" fill="#333333" >21/12</text>
<text x="708.1" y="748.7" font-size="9.4" text-anchor="middle" fill="#333333" >22/06</text>
<text x="745.6" y="748.7" font-size="9.4" text-anchor="middle" fill="#333333" >22/12</text>
<text x="783.1" y="748.7" font-size="9.4" text-anchor="middle" fill="#333333" >23/06</text>
<text x="820.6" y="748.7" font-size="9.4" text-anchor="middle" fill="#333333" >23/12</text>
<text x="858.1" y="748.7" font-size="9.4" text-anchor="middle" fill="#333333" >24/06</text>
<text x="895.5" y="748.7" font-size="9.4" text-anchor="middle" fill="#333333" >24/12</text>
<text x="933.0" y="748.7" font-size="9.4" text-anchor="middle" fill="#333333" >25/06</text>
<line x1="577.9" y1="761" x2="604.9" y2="761" stroke="#305D95" stroke-width="2.2" stroke-linecap="round"/>
<text x="607.9" y="764.3" font-size="9.4" text-anchor="start" fill="#333333" >湿法5um</text>
<line x1="672.0" y1="761" x2="698.5" y2="761" stroke="#A5A5A5" stroke-width="2.2" stroke-linecap="round"/>
<text x="702.7" y="764.3" font-size="9.4" text-anchor="start" fill="#333333" >湿法7um</text>
<line x1="766.2" y1="761" x2="792.6" y2="761" stroke="#4F81BD" stroke-width="2.2" stroke-linecap="round"/>
<text x="796.1" y="764.3" font-size="9.4" text-anchor="start" fill="#333333" >湿法9um</text>
<line x1="860.5" y1="761" x2="887.4" y2="761" stroke="#C00000" stroke-width="2.2" stroke-linecap="round"/>
<text x="890.9" y="764.3" font-size="9.4" text-anchor="start" fill="#333333" >干法16um</text>
<polyline points="77.8,255.9 87.8,255.9 88.5,246.8 90.9,246.8 91.8,234.5 100.0,234.6 107.9,234.6 108.3,231.9 121.3,231.9 122.7,229.5 124.5,228.1 126.9,224.9 128.7,223.1 131.0,220.7 133.3,218.0 135.6,217.0 137.0,212.4 138.0,210.6 140.7,208.7 143.1,205.9 144.9,203.1 147.2,199.4 150.0,194.8 152.8,190.2 155.6,185.6 157.5,185.6 159.8,178.7 162.1,176.4 165.0,174.1 167.3,169.4 169.6,162.5 171.3,155.6 173.1,148.6 174.2,142.8 176.0,134.7 177.7,133.6 180.0,133.6 195.0,133.4 195.7,140.6 206.4,140.6 207.1,143.6 224.2,143.6 225.4,142.0 232.0,142.1 239.4,142.1 240.8,144.0 246.8,144.4 248.7,145.8 250.5,147.2 252.8,150.5 254.2,153.7 255.1,159.3 256.5,166.0 258.1,179.7 261.6,182.6 262.7,195.9 265.0,197.0 266.2,208.6 268.5,216.7 268.5,224.8 285.3,224.8 287.0,236.4 289.9,241.0 296.3,245.6 304.4,249.1 307.9,252.6 310.0,258.4 312.2,262.3 317.0,274.2 324.1,275.8 331.2,276.6 333.6,278.5 340.7,280.1 341.9,279.6 345.4,276.1 350.2,274.2 359.7,275.4 369.2,276.6 373.9,278.9 383.4,279.6 390.5,280.1 391.7,286.0 400.0,288.4 407.1,291.5 411.9,292.7 421.4,292.7 430.9,290.8 430.9,286.8 452.2,286.8 457.0,284.1 464.6,283.7" fill="none" stroke="#BFBFBF" stroke-width="2.25" stroke-linejoin="round" stroke-linecap="round"/>
<polyline points="77.8,223.1 83.0,223.1 85.4,220.3 91.4,218.4 93.7,216.0 98.5,214.3 120.5,214.3 121.3,214.7 122.7,212.9 125.0,211.9 127.3,210.1 129.6,208.2 132.9,205.0 135.2,204.1 137.0,202.2 138.0,199.9 139.8,199.9 142.6,197.6 145.4,194.4 148.1,190.8 150.9,188.5 153.2,186.2 154.6,183.7 156.0,180.9 158.6,175.2 162.1,172.9 165.6,169.4 167.9,164.8 170.2,157.9 172.5,152.1 174.2,144.0 176.0,139.4 177.7,137.0 180.0,136.8 224.2,135.8 225.4,135.3 232.0,135.2 238.9,135.2 240.8,138.9 242.6,142.1 246.8,142.6 248.7,146.3 250.1,150.5 251.9,155.6 254.2,160.2 255.6,166.7 257.9,169.9 259.8,173.5 261.0,176.0 264.0,177.2 265.8,180.5 267.4,186.0 268.5,190.7 285.3,190.7 287.0,198.2 289.4,202.2 293.4,204.6 295.1,209.8 297.5,210.9 306.7,210.9 310.0,215.6 311.0,217.2 317.0,225.5 331.2,226.7 341.9,226.7 344.3,225.5 351.4,225.5 359.7,227.9 369.2,229.1 371.5,232.2 378.7,233.4 392.9,233.4 400.0,236.2 411.9,238.6 426.1,242.1 440.4,243.3 449.9,242.1 459.4,242.1 464.6,241.0" fill="none" stroke="#5B9BD5" stroke-width="2.25" stroke-linejoin="round" stroke-linecap="round"/>
<polyline points="77.8,203.2 87.8,203.2 88.5,196.5 97.3,196.5 97.3,192.7 120.5,192.7 121.0,192.6 123.3,190.9 126.2,189.1 127.4,187.7 130.8,185.6 134.3,183.1 136.6,181.6 137.8,179.3 140.7,177.8 143.6,175.2 148.2,170.6 150.5,167.1 154.0,164.2 158.6,159.0 160.9,156.7 165.0,153.2 167.3,148.6 169.0,144.0 171.3,137.0 173.7,130.1 175.4,124.3 177.1,120.2 180.0,119.7 224.2,118.7 225.4,118.3 232.0,119.0 239.9,119.0 241.7,122.7 245.9,123.6 247.3,125.9 249.1,126.9 250.5,131.9 251.9,136.1 253.8,140.7 255.1,148.1 257.0,153.7 258.9,159.3 260.2,161.6 264.4,163.0 266.3,170.4 268.5,177.4 285.5,177.4 287.3,185.5 289.4,192.4 292.8,194.7 295.1,201.7 297.5,203.4 308.4,203.4 310.0,205.7 311.0,206.5 317.0,213.7 321.7,217.7 341.9,217.7 346.6,214.9 351.4,214.9 359.7,217.9 369.2,220.1 373.9,225.1 378.7,226.2 395.3,226.2 402.4,230.3 411.9,232.6 416.6,232.6 430.9,233.1 459.4,232.2 464.6,231.5" fill="none" stroke="#C00000" stroke-width="2.25" stroke-linejoin="round" stroke-linecap="round"/>
<polyline points="77.8,198.9 87.8,198.4 87.8,192.7 90.2,191.1 97.3,191.1 97.3,187.5 120.5,187.5 121.0,187.7 122.7,186.2 125.0,185.4 126.8,183.3 128.5,182.8 131.4,180.4 134.3,178.5 135.7,178.2 137.2,174.1 138.9,172.9 141.2,171.5 144.7,168.3 148.2,164.8 150.5,161.3 152.8,160.2 156.3,156.1 158.6,153.8 160.9,150.9 164.4,148.0 166.7,145.1 169.0,134.7 170.8,131.2 173.1,126.6 174.8,118.5 176.6,113.9 178.3,111.9 180.0,111.9 224.2,112.1 225.4,111.1 232.0,111.6 240.3,111.6 242.2,114.4 246.4,115.3 247.7,118.5 250.0,119.0 251.0,123.6 252.4,127.8 253.8,132.9 255.6,139.8 257.5,145.4 258.9,150.5 260.2,153.2 264.9,154.6 266.3,160.2 268.5,168.5 269.3,169.2 285.3,169.2 287.4,176.0 289.9,182.0 292.8,186.0 294.6,191.2 296.3,194.1 306.7,194.7 310.0,198.2 311.0,199.4 317.0,207.7 324.1,214.4 341.9,214.4 343.1,211.3 353.7,211.3 359.7,213.7 369.2,217.2 375.1,220.8 378.7,224.3 395.3,225.1 400.0,227.9 404.8,229.1 411.9,229.8 415.4,231.5 419.0,230.8 457.0,230.8 459.4,229.1 464.6,229.1" fill="none" stroke="#1F3864" stroke-width="2.25" stroke-linejoin="round" stroke-linecap="round"/>
<polyline points="562.0,280.9 578.6,280.9 584.8,282.7 594.8,282.7 612.2,283.4 623.4,283.4 627.1,281.4 632.1,280.2 637.0,278.2 642.0,277.0 647.0,276.0 661.9,275.2 666.9,274.5 669.4,271.5 673.1,266.5 676.8,259.6 680.0,259.1 685.0,259.1 688.7,254.1 691.2,247.9 693.7,241.7 696.2,239.2 698.6,231.7 701.1,226.3 708.6,225.5 711.1,228.7 731.0,228.7 733.5,228.0 738.4,226.7 742.2,224.3 745.9,220.5 749.6,220.5 754.6,224.3 757.1,230.5 760.8,233.0 764.5,237.9 768.3,246.6 770.8,256.6 773.2,266.5 775.7,267.8 777.5,267.0 779.5,257.8 782.4,254.6 786.9,254.6 791.9,257.8 794.4,262.8 796.9,267.0 801.8,269.5 806.8,271.5 810.0,272.7 817.5,279.0 829.9,279.5 842.3,279.7 852.3,281.4 862.2,284.4 874.6,283.4 884.6,283.2 894.5,283.7 904.5,285.2 914.4,285.2 919.4,283.4 923.1,281.9 926.9,283.4 932.3,283.4" fill="none" stroke="#A5A5A5" stroke-width="2.25" stroke-linejoin="round" stroke-linecap="round"/>
<polyline points="589.8,215.6 589.8,223.0 603.5,223.0 604.7,221.3 609.7,220.5 612.2,219.3 624.6,219.3 627.1,215.6 628.3,211.8 632.1,210.1 635.8,205.6 639.5,205.6 642.0,209.3 647.0,211.8 650.7,211.8 653.2,209.3 656.9,206.9 659.4,204.4 661.9,201.9 665.6,199.4 669.4,196.4 670.6,191.9 671.9,183.2 674.3,179.5 676.8,176.5 680.0,176.5 688.7,176.5 691.2,169.6 693.7,162.1 696.2,160.9 697.9,149.7 699.4,127.3 701.9,117.3 704.4,112.4 706.1,108.6 709.3,108.6 711.8,112.4 712.8,118.6 716.1,121.1 719.8,122.3 724.8,126.8 729.7,127.3 733.5,126.8 739.7,124.8 742.2,121.1 745.9,117.3 750.9,117.3 753.3,119.8 754.6,123.6 758.3,126.1 762.0,132.3 765.8,139.7 769.5,162.1 773.2,174.5 775.7,183.2 777.7,183.2 779.5,170.8 781.4,169.6 786.9,169.6 789.4,173.3 791.9,182.0 794.4,189.5 796.9,194.4 799.3,199.4 801.8,204.4 805.6,205.6 808.0,206.9 810.0,210.6 812.5,215.6 815.0,223.0 817.5,226.7 829.9,226.7 832.4,226.0 843.6,226.0 845.3,224.3 847.3,226.3 849.3,230.5 859.7,231.2 864.7,231.7 870.9,233.0 874.6,233.7 880.9,234.7 892.0,234.2 895.8,231.7 902.0,231.7 909.5,233.0 914.4,233.5 919.4,234.2 923.1,232.2 926.9,233.7 929.3,233.0 932.3,231.7" fill="none" stroke="#8DBB45" stroke-width="2.25" stroke-linejoin="round" stroke-linecap="round"/>
<polyline points="562.0,234.2 562.5,241.7 570.4,241.7 571.9,236.7 574.4,236.7 576.1,241.7 578.6,243.7 582.3,244.6 597.3,244.6 599.3,242.2 624.6,241.7 627.1,237.9 629.6,231.7 633.3,229.2 635.8,221.8 638.3,219.8 640.8,224.3 655.7,225.5 658.2,221.8 661.9,219.3 665.6,217.3 669.4,213.1 671.4,205.6 673.1,196.4 676.8,191.9 680.0,191.4 686.2,191.4 688.7,185.7 691.2,174.5 693.7,169.6 696.2,167.1 698.6,139.7 701.1,133.5 703.6,131.8 706.1,129.8 709.3,131.0 711.8,137.2 713.6,139.7 717.3,141.0 719.8,143.5 724.8,145.9 727.2,147.2 732.2,146.7 737.2,143.5 740.9,139.7 744.1,137.2 748.4,136.0 750.9,137.2 754.6,143.5 758.3,150.9 760.8,153.4 763.3,164.6 765.8,172.0 768.3,188.2 770.8,208.1 773.2,219.3 776.5,220.5 778.2,206.9 780.0,191.9 782.4,191.9 786.9,194.4 790.6,199.4 793.1,209.3 795.6,211.8 799.3,219.3 803.1,221.8 806.8,223.0 810.0,225.5 812.5,229.2 815.0,236.7 817.5,244.2 828.6,243.7 832.4,242.9 843.6,242.9 845.3,241.2 848.5,247.9 859.7,250.4 869.7,252.1 873.4,253.6 879.6,252.9 884.6,253.4 892.0,252.9 895.8,244.6 904.5,245.4 909.5,246.6 914.4,247.9 919.4,247.1 923.1,245.4 926.9,246.6 929.3,244.6 932.3,242.9" fill="none" stroke="#C00000" stroke-width="2.25" stroke-linejoin="round" stroke-linecap="round"/>
<polyline points="562.0,231.2 569.9,230.5 571.2,226.3 574.9,226.3 576.1,230.5 578.6,233.7 582.3,234.7 588.6,235.0 589.8,236.7 596.0,237.2 597.3,238.2 599.3,237.2 623.4,236.7 625.9,234.2 627.1,230.5 629.6,226.7 633.3,224.3 635.8,216.8 638.3,215.6 640.8,217.3 643.3,219.8 647.0,223.0 656.9,223.0 659.4,218.0 661.9,215.6 665.6,211.8 669.4,208.1 671.4,199.4 673.1,190.7 676.8,187.0 678.1,185.7 680.0,185.7 687.5,185.7 689.9,180.8 692.4,172.0 694.9,169.1 697.4,162.1 699.4,137.2 701.9,127.3 703.6,123.6 706.1,121.1 709.3,121.1 712.3,124.8 716.1,126.8 719.8,127.3 724.8,131.0 729.7,131.8 733.5,131.0 739.7,128.5 743.4,126.1 747.1,124.8 752.1,124.8 754.6,129.8 758.3,136.0 762.0,142.2 765.8,154.6 769.5,177.0 773.2,194.4 775.7,200.6 777.0,200.6 779.5,187.0 780.7,185.0 783.2,185.0 786.9,187.0 790.6,191.9 793.1,199.4 795.6,204.4 798.1,209.3 801.8,214.3 806.8,215.6 810.0,219.3 812.5,225.5 815.0,234.2 817.5,237.9 843.6,238.4 845.3,236.7 847.3,239.2 849.3,242.9 859.7,244.2 872.2,244.2 877.1,242.9 882.1,244.6 892.0,244.2 895.8,239.2 904.5,239.2 909.5,240.4 914.4,242.2 919.4,242.2 923.1,240.4 926.9,242.2 929.3,241.7 932.3,239.9" fill="none" stroke="#1F3864" stroke-width="2.25" stroke-linejoin="round" stroke-linecap="round"/>
<polyline points="68.8,632.3 135.3,632.3 135.9,624.6 171.8,624.6 172.3,586.0 190.0,585.7 240.6,585.7 243.6,591.6 259.7,591.6 260.6,604.5 273.1,604.5 273.7,613.5 327.8,613.5 327.8,623.9 362.3,623.9 362.3,628.7 392.2,628.7 392.2,630.5 472.3,630.5" fill="none" stroke="#A5A5A5" stroke-width="2" stroke-linejoin="round" stroke-linecap="round"/>
<polyline points="68.8,606.8 89.3,606.8 89.3,595.3 111.9,595.3 113.2,594.5 121.2,594.5 121.8,591.9 134.5,591.9 135.3,588.7 138.0,588.7 139.1,583.3 144.6,583.3 145.2,579.9 169.1,579.9 170.5,578.0 178.4,578.0 179.2,576.7 184.6,576.7 185.1,574.0 190.0,574.0 217.9,574.0 219.3,576.2 227.3,576.2 228.1,578.6 245.9,578.6 246.4,589.7 256.5,589.7 257.9,592.7 261.9,592.7 263.2,595.9 267.2,598.0 272.5,598.0 273.8,599.9 288.5,599.9 288.5,623.8 320.0,623.8 392.4,623.8 392.4,630.5 472.3,630.5" fill="none" stroke="#C0504D" stroke-width="3.2" stroke-linejoin="round" stroke-linecap="round"/>
<polyline points="181.9,657.9 190.0,657.9 199.3,657.9 200.1,660.3 211.8,660.3 212.6,665.1 215.3,665.1 216.6,667.2 219.8,667.2 220.6,672.2 227.3,672.2 228.6,685.6 229.9,685.6 231.3,693.0 232.1,697.8 244.6,697.8 245.4,701.0 249.9,701.0 250.7,703.1 256.5,703.1 257.3,706.3 261.9,706.3 263.2,707.1 266.4,709.8 307.1,709.8 308.4,711.6 315.1,711.6 316.4,713.2 320.0,713.3 472.3,713.3" fill="none" stroke="#1F4E8C" stroke-width="3.2" stroke-linejoin="round" stroke-linecap="round"/>
<polyline points="557.9,614.6 749.8,614.6 749.8,617.5 769.2,617.5 769.2,624.0 779.0,624.0 779.0,630.0 817.1,630.0 818.0,652.5 820.0,652.9 824.2,653.5 826.2,657.7 832.5,659.8 836.7,660.8 839.8,662.9 840.8,667.1 842.9,675.8 847.1,678.1 860.6,678.5 863.8,681.7 870.0,682.9 882.5,683.8 903.3,683.8 924.2,684.8 930.4,685.2 931.5,688.3 953.3,688.3 960.6,687.9" fill="none" stroke="#A5A5A5" stroke-width="1.8" stroke-linejoin="round" stroke-linecap="round"/>
<polyline points="557.9,653.5 700.8,653.5 700.8,648.8 749.8,648.8 749.8,657.7 769.2,657.7 769.2,662.5 817.1,662.5 820.0,664.0 825.2,664.4 827.3,667.5 830.4,669.2 835.6,671.2 839.8,674.4 841.9,677.5 843.3,682.7 847.1,683.8 860.6,683.8 864.8,685.8 870.0,687.1 878.3,688.3 903.3,688.3 924.2,689.6 930.4,690.0 953.3,690.0 960.6,689.0" fill="none" stroke="#4F81BD" stroke-width="1.8" stroke-linejoin="round" stroke-linecap="round"/>
<polyline points="557.9,676.9 728.3,676.9 728.3,683.3 749.8,683.3 750.8,684.2 769.2,684.2 769.2,687.9 779.0,687.9 779.0,690.0 817.1,690.0 817.5,695.2 820.0,695.2 824.2,696.2 828.3,697.9 832.5,698.8 836.7,699.4 839.8,701.5 842.9,706.7 860.6,706.7 864.8,707.7 874.2,708.8 903.3,708.8 917.9,708.3 930.4,707.7 960.6,707.7" fill="none" stroke="#C00000" stroke-width="1.8" stroke-linejoin="round" stroke-linecap="round"/>
<polyline points="557.9,561.1 690.4,561.1 690.4,555.0 749.8,555.0 749.8,558.1 769.2,558.1 769.2,564.0 779.0,564.0 779.0,570.2 817.1,570.2 818.0,583.8 818.5,590.0 819.2,606.3 821.7,606.3 821.7,611.9 825.2,611.9 825.8,614.6 840.8,614.6 841.9,619.2 842.9,625.4 843.3,632.7 860.6,632.7 861.7,634.8 864.8,636.2 870.0,637.3 882.5,637.9 903.3,637.9 905.4,638.5 930.4,638.5 930.8,653.5 960.6,653.5" fill="none" stroke="#305D95" stroke-width="1.8" stroke-linejoin="round" stroke-linecap="round"/>
</svg>
</body></html>
